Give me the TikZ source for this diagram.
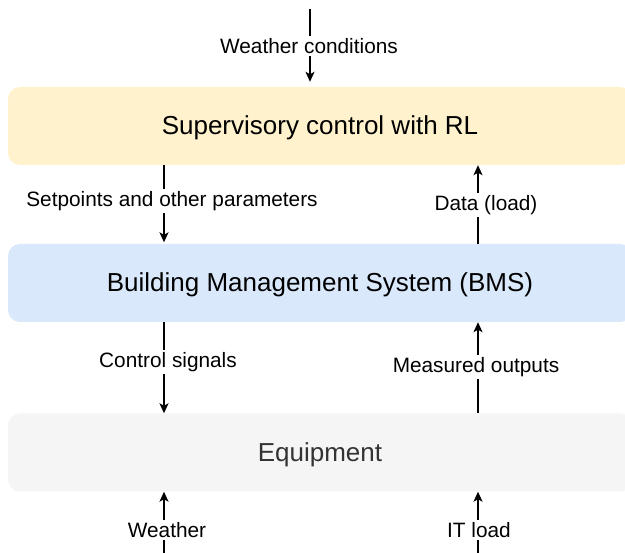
\documentclass[tikz,border=0pt]{standalone}
\usepackage{fontspec}
\setmainfont{Liberation Sans}
\usetikzlibrary{arrows.meta,calc}

\definecolor{rlfill}{HTML}{FFF2CC}
\definecolor{bmsfill}{HTML}{DAE8FC}
\definecolor{eqfill}{HTML}{F5F5F5}
\definecolor{eqtext}{HTML}{333333}

\tikzset{
  panel/.style={draw=none, rounded corners=12pt, minimum width=624pt,
    minimum height=78pt, inner sep=0pt, text height=21pt, text depth=3pt,
    font=\fontsize{26}{31}\selectfont},
  lbl/.style={fill=white, inner sep=2pt, font=\fontsize{20.8}{25}\selectfont},
  link/.style={line width=1.3pt},
  arr/.style={link, -{Stealth[length=10pt, width=9pt, inset=2.5pt]}}
}

\begin{document}
\begin{tikzpicture}[x=1pt, y=-1pt]
  \useasboundingbox (0,0) rectangle (625,553);
  \clip (0,0) rectangle (625,553);

  % the three layers
  \node[panel, fill=rlfill]  (rl)  at (320,126)   {Supervisory control with RL};
  \node[panel, fill=bmsfill] (bms) at (320,283)   {Building Management System (BMS)};
  \node[panel, fill=eqfill, text=eqtext] (eq) at (320,452.5) {Equipment};

  % free ends of the outer inputs
  \coordinate (wcin) at (310,9);
  \coordinate (wxin) at (164,560);
  \coordinate (itin) at (478,560);
  \coordinate (xl) at (164,0);
  \coordinate (xr) at (478,0);

  % connectors
  \draw[arr, shorten >=5pt] (wcin) -- (rl.north -| wcin);
  \draw[arr, shorten >=1.5pt] (rl.south -| xl) -- (bms.north -| xl);
  \draw[arr] (bms.north -| xr) -- (rl.south -| xr);
  \draw[arr] (bms.south -| xl) -- (eq.north -| xl);
  \draw[arr] (eq.north -| xr) -- (bms.south -| xr);
  \draw[arr] (wxin) -- (eq.south -| wxin);
  \draw[arr] (itin) -- (eq.south -| itin);

  % connector labels
  \node[lbl] (lwc) at (309,46)  {Weather conditions};
  \node[lbl] (lsp) at (172,201) {Setpoints and other parameters};
  \node[lbl] (ldl) at (486,205) {Data (load)};
  \node[lbl] (lcs) at (168,362) {Control signals};
  \node[lbl] (lmo) at (476,367) {Measured outputs};
  \node[lbl] (lwx) at (167,530) {Weather};
  \node[lbl] (lit) at (479,530) {IT load};
\end{tikzpicture}
\end{document}
